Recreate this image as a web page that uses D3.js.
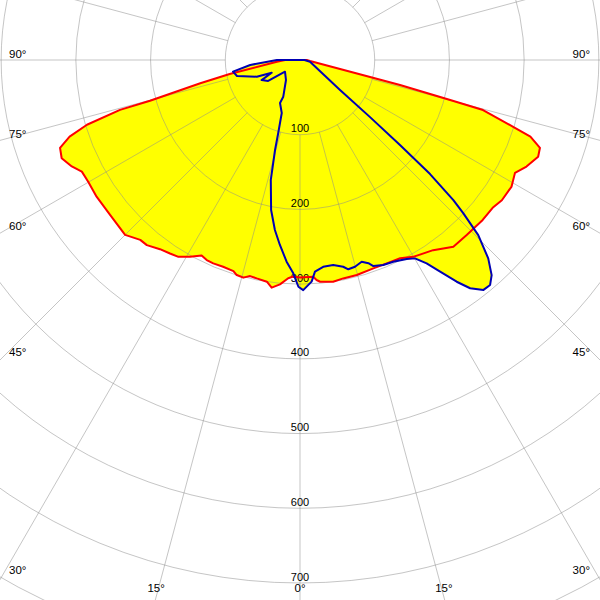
<!DOCTYPE html>
<html><head><meta charset="utf-8">
<script src="https://cdn.jsdelivr.net/npm/d3@7"></script>
<style>body{margin:0;background:#fff}</style>
</head><body>
<script>
// Red curve (angle in degrees from nadir, positive to the right; intensity)
const redAngles = [-90,-85.8,-78.7,-76.9,-74.8,-74.5,-73.1,-71.6,-69.9,-67.6,-65,-62.9,-60.1,-56.1,-50.8,-45,-41.6,-39.6,-36.5,-33.9,-31.7,-29.2,-26.7,-25,-23.1,-20.4,-17.5,-16.4,-14.6,-13,-11.2,-8.5,-7.1,-5.1,-3.1,-1.8,0,3.5,4.3,5.2,8.5,11.2,14.8,19.4,23.1,26.8,29.9,35,39.4,43.6,48.8,52.5,55.2,59.1,62.3,64.8,67.9,69.9,71.6,72.6,74.7,75.1,76,76.3,84,90];
const redValues = [20,31,96,137,208,250,298,325,342,345,337,328,327,328,328,331,322,321.6,315,312,309.6,301.7,293,295.4,295.9,295.2,296.2,300,301,296.8,298,300,307,301.5,292.6,290,291,290.6,295.3,298,300,298,297.7,295.6,295.9,297.3,303.9,310.7,323.4,323.5,325,325,329,330,325,335,344,342,325,299,254,208,138,103,13.5,9];
// Blue curve
const blueAngles = [-90,-84.3,-80.1,-75.8,-68.9,-65.8,-62.4,-56.7,-52,-35,-24.5,-24.9,-19,-16.6,-15.5,-13.7,-10.9,-8.4,-6.2,-3.8,-1.8,-0.4,0.8,3,4.05,6.4,9.2,11.8,13,14.9,17,18.6,19.6,22.1,24.8,28.2,30.1,31.9,33.5,35.25,36.7,38.6,40.2,41.7,43.5,45.5,46.8,47.6,48.75,49.6,50.8,53.1,80,90];
const blueValues = [31,67,91,87,62,41.5,58,51,25.5,32.7,54,63.5,75,102,125,165,204.5,230,249,270.5,285.7,303.5,308,297,284,278.5,278,282.7,287.5,286.3,282.3,287,292.7,296.2,297.5,302.3,306.9,320.7,339.8,363.4,381,393.7,394.2,385.6,366,334.5,300,278,231.5,175.7,121,67,13.6,6];
// Grid
const ringValues = [100,200,300,400,500,600,700,800,900];
const ringLabels = ["100","200","300","400","500","600","700"];
const spokeAngles = d3.range(0,360,15);
const angleLabelValues = [-90,-75,-60,-45,-30,-15,0,15,30,45,60,75,90];

const W=600,H=600,cx=300,cy=60;
const r = d3.scaleLinear().domain([0,700]).range([0,523]);
const svg = d3.select("body").append("svg").attr("width",W).attr("height",H);
const g = svg.append("g").attr("transform",`translate(${cx},${cy})`);
const toRad = d => (180 - d) * Math.PI/180;

const line = d3.lineRadial().curve(d3.curveLinearClosed)
  .angle(d=>toRad(d[0])).radius(d=>r(d[1]));
const redData = redAngles.map((a,i)=>[a,redValues[i]]);
const blueData = blueAngles.map((a,i)=>[a,blueValues[i]]);

// fills
g.append("path").attr("d",line(redData)).attr("fill","#ffff00");
g.append("path").attr("d",line(blueData)).attr("fill","#ffff00");

// grid
const grid = g.append("g").attr("stroke","#8c8c8c").attr("stroke-opacity",0.5).attr("fill","none").attr("stroke-width",1);
ringValues.forEach(v=>grid.append("circle").attr("r",r(v)));
spokeAngles.forEach(a=>{
  const t=a*Math.PI/180;
  grid.append("line")
    .attr("x1",r(100)*Math.sin(t)).attr("y1",r(100)*Math.cos(t))
    .attr("x2",r(900)*Math.sin(t)).attr("y2",r(900)*Math.cos(t));
});

// ring labels
const font = "'Liberation Sans', Arial, sans-serif";
ringLabels.forEach(s=>{
  g.append("text").attr("x",0).attr("y",r(+s)-2.5).attr("text-anchor","middle")
   .attr("font-family",font).attr("font-size",11).attr("fill","#000").text(s);
});

// angle labels at frame edges
angleLabelValues.forEach(a=>{
  const t=a*Math.PI/180, sx=Math.sin(t), sy=Math.cos(t);
  const tb=(597-cy)/sy;
  const xb=cx+tb*sx;
  let x,y,anchor;
  if (Math.abs(sx)<1e-9 || (xb>=2 && xb<=598)) {
    x=xb; y=592; anchor="middle";
  } else {
    const edge = sx<0 ? 2 : 598;
    const ts=(edge-cx)/sx;
    y=cy+ts*sy-2;
    x = sx<0 ? 9 : 590; anchor = sx<0 ? "start" : "end";
  }
  svg.append("text").attr("x",x).attr("y",y).attr("text-anchor",anchor)
   .attr("font-family",font).attr("font-size",11.5).attr("fill","#000").text(Math.abs(a)+"°");
});

// outlines
g.append("path").attr("d",line(redData)).attr("fill","none").attr("stroke","#ff0000").attr("stroke-width",2).attr("stroke-linejoin","round");
g.append("path").attr("d",line(blueData)).attr("fill","none").attr("stroke","#0000b4").attr("stroke-width",2).attr("stroke-linejoin","round");
</script>
</body></html>
